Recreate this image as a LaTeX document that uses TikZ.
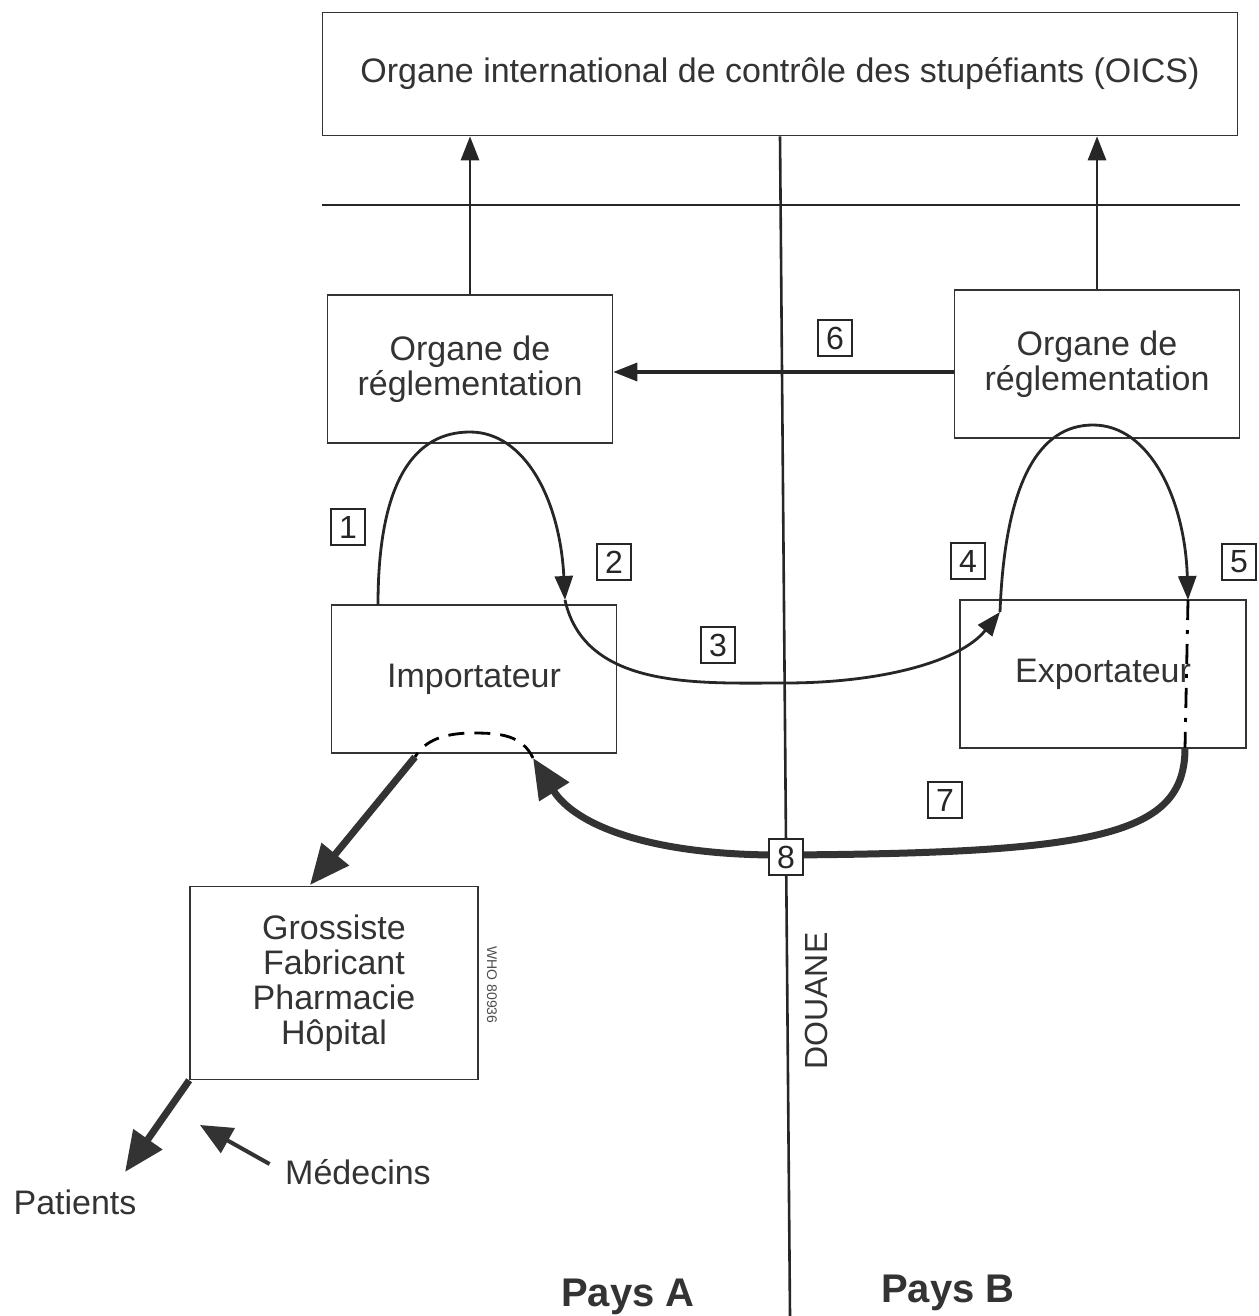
\documentclass[tikz,border=0pt]{standalone}
\usepackage{fontspec}
\setmainfont{Liberation Sans}
\usetikzlibrary{arrows.meta}

\begin{document}
\begin{tikzpicture}[
    x=0.5pt, y=-0.5pt,
    line width=1pt,
    box/.style={
        draw=black!80,
        line width=0.8pt,
        align=center,
        inner sep=0pt,
        text=black!80,
        font=\fontsize{17}{17.5}\selectfont
    },
    num/.style={draw=black!85, line width=1.4pt, fill=white, inner sep=0pt,
        minimum width=17pt, minimum height=18pt, text=black!85,
        font=\fontsize{16}{16}\selectfont},
    lbl/.style={text=black!80, font=\fontsize{17}{17.5}\selectfont},
    border/.style={draw=black!85, line width=1.3pt},
    arrow/.style={draw=black!85, -{Triangle[length=12pt,width=9pt]}, line width=1.4pt},
    bigarrow/.style={draw=black!80, -{Triangle[length=20pt,width=17pt]}, line width=3.5pt}
]
\useasboundingbox (0,0) rectangle (1258,1316);

% boxes
\node[box, minimum width=457.5pt, minimum height=61.5pt] (oics) at (780,74)
    {Organe international de contrôle des stupéfiants (OICS)};
\node[box, minimum width=142.5pt, minimum height=74pt] (regA) at (470,369) {Organe de\\réglementation};
\node[box, minimum width=142.5pt, minimum height=74pt] (regB) at (1097,364) {Organe de\\réglementation};
\node[box, minimum width=142.5pt, minimum height=74pt] (imp) at (474,679) {Importateur};
\node[box, minimum width=143pt, minimum height=74pt] (exp) at (1103,674) {Exportateur};
\node[box, minimum width=144pt, minimum height=96.5pt] (gros) at (334,983)
    {Grossiste\\Fabricant\\Pharmacie\\Hôpital};

\node[lbl] (patients) at (75,1202) {Patients};
\node[lbl] (medecins) at (358,1172) {Médecins};
\node[text=black!80, font=\fontsize{16}{16}\selectfont, rotate=90] (douane) at (816,1001) {DOUANE};
\node[text=black!70, font=\fontsize{7}{7}\selectfont, rotate=-90] (who) at (492,985) {WHO 80936};
\node[text=black!80, font=\fontsize{20}{20}\selectfont\bfseries] (paysA) at (628,1297) {Pays A};
\node[text=black!80, font=\fontsize{20}{20}\selectfont\bfseries] (paysB) at (948,1293) {Pays B};

% frontier lines
\coordinate (wl) at (322,205);
\coordinate (wr) at (1240,205);
\coordinate (dbot) at (790,1316);
\draw[border] (wl) -- (wr);
\draw[border] (oics.south) -- (dbot);

% reports to OICS
\draw[arrow] (regA.north) -- (regA.north |- oics.south);
\draw[arrow] (regB.north) -- (regB.north |- oics.south);
\draw[arrow, line width=1.7pt] ([yshift=-4pt]regB.west) -- ([yshift=-4pt]regB.west -| regA.east);

% curve points
\coordinate (p1) at (378,605);
\coordinate (p2) at (565,600);
\coordinate (p3) at (1000,612);
\coordinate (p4) at (1188,600);
\coordinate (p5) at (1185,748);
\coordinate (p6) at (533,758);
\coordinate (p7) at (415,757);
\coordinate (p8) at (310,885);
\coordinate (p9) at (125,1172);
\coordinate (p10) at (200,1125);

\draw[arrow] (p1) .. controls (378,480) and (415,432) .. (470,432)
    .. controls (525,432) and (560,500) .. (p2);
\draw[arrow] (p2) .. controls (585,690) and (700,683) .. (785,683)
    .. controls (880,683) and (960,662) .. (p3);
\draw[arrow] (p3) .. controls (1005,480) and (1040,425) .. (1093,425)
    .. controls (1150,425) and (1185,500) .. (p4);
\draw[line width=1.4pt, dash pattern=on 10pt off 5pt on 2pt off 5pt] (p4) -- (p5);
\draw[bigarrow] (p5) .. controls (1185,835) and (1100,853) .. (786,855)
    .. controls (650,856) and (575,825) .. (p6);
\draw[line width=1.4pt, dash pattern=on 8pt off 5pt] (p6) .. controls (522,735) and (500,733) .. (473,733)
    .. controls (445,733) and (425,740) .. (p7);
\draw[bigarrow] (p7) -- (p8);
\draw[bigarrow] (gros.south west) -- (p9);
\draw[draw=black!80, line width=2pt, -{Triangle[length=16pt,width=14pt]}] ([xshift=-4pt,yshift=4pt]medecins.west) -- (p10);

% numbers
\node[num] (n1) at (348,527) {1};
\node[num] (n2) at (614,562) {2};
\node[num] (n3) at (718,645) {3};
\node[num] (n4) at (968,561) {4};
\node[num] (n5) at (1239,562) {5};
\node[num] (n6) at (835,338) {6};
\node[num] (n7) at (945,800) {7};
\node[num] (n8) at (786,857) {8};

\end{tikzpicture}
\end{document}
